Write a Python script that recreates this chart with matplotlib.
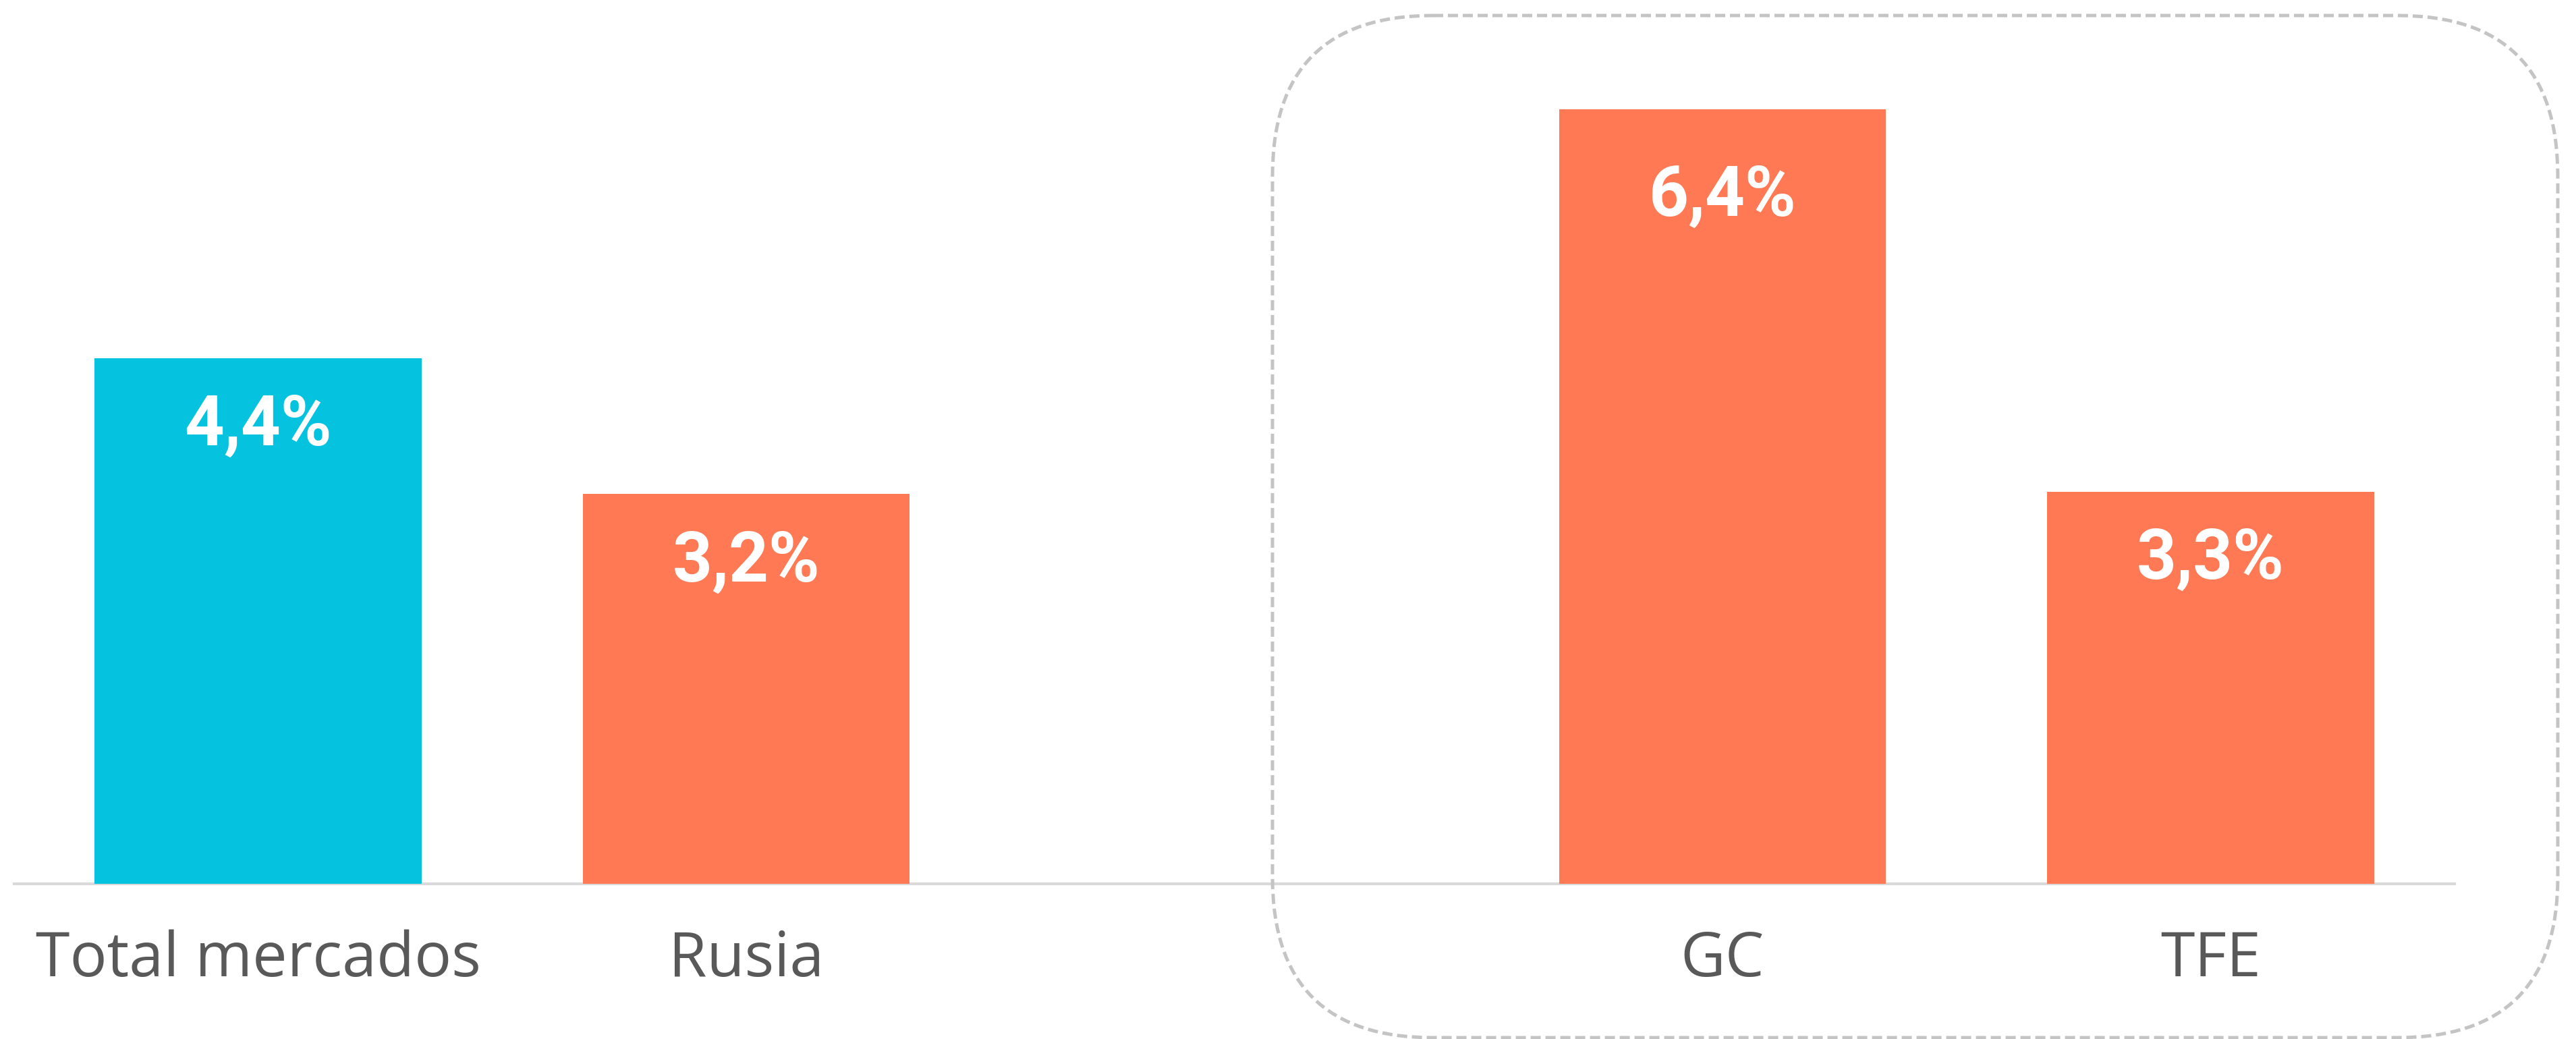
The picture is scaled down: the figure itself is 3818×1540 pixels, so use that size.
import matplotlib
matplotlib.use("Agg")
import matplotlib.pyplot as plt
from matplotlib.patches import FancyBboxPatch

# ---- data ----
categories = ["Total mercados", "Rusia", "", "GC", "TFE"]
values = [4.37, 3.24, None, 6.44, 3.26]
value_labels = ["4,4%", "3,2%", "", "6,4%", "3,3%"]
bar_colors = ["#05C3DE", "#FF7A54", "#FFFFFF", "#FF7A54", "#FF7A54"]

# label offsets below bar top (points) -- style only
label_offsets_pt = [-93, -93, 0, -114, -93]

W, H, DPI = 3818, 1540, 100
fig = plt.figure(figsize=(W / DPI, H / DPI), dpi=DPI)
fig.patch.set_facecolor("white")

axis_y_px = 1310
px_per_unit = 178.3
ymax = 7.0
ax_left_px, ax_right_px = 21, 3638
ax = fig.add_axes([ax_left_px / W, (H - axis_y_px) / H,
                   (ax_right_px - ax_left_px) / W, ymax * px_per_unit / H])

xs = [i for i, v in enumerate(values) if v is not None]
vs = [values[i] for i in xs]
cs = [bar_colors[i] for i in xs]
bars = ax.bar(xs, vs, width=0.67, color=cs, zorder=3)

ax.set_xlim(-0.5, len(categories) - 0.5)
ax.set_ylim(0, ymax)
for s in ["top", "right", "left"]:
    ax.spines[s].set_visible(False)
ax.spines["bottom"].set_color("#D9D9D9")
ax.spines["bottom"].set_linewidth(3)
ax.spines["bottom"].set_zorder(2)
ax.set_yticks([])
ax.set_xticks([])

for i, v in zip(xs, vs):
    ax.annotate(value_labels[i], xy=(i, v), xytext=(0, label_offsets_pt[i]),
                textcoords="offset points", ha="center", va="baseline",
                color="white", fontsize=74, fontweight="bold",
                family=["Roboto", "DejaVu Sans"], zorder=5)

label_base = -(1447 - axis_y_px) / (ymax * px_per_unit)
for i, c in enumerate(categories):
    if c:
        ax.text(i, label_base, c, transform=ax.get_xaxis_transform(),
                ha="center", va="baseline", color="#595959", fontsize=66,
                family=["Open Sans", "DejaVu Sans"])

# dashed rounded frame around GC / TFE
ov = fig.add_axes([0, 0, 1, 1], facecolor="none")
ov.set_xlim(0, W)
ov.set_ylim(H, 0)
ov.axis("off")
x0, y0, x1, y1 = 1886, 23, 3791, 1538
frame = FancyBboxPatch((x0, y0), x1 - x0, y1 - y0,
                       boxstyle="round,pad=0,rounding_size=238",
                       fill=False, edgecolor="#C4C4C4", linewidth=3.6,
                       linestyle=(0, (3, 1.4)), clip_on=False)
ov.add_patch(frame)

fig.savefig("out.png", dpi=DPI, facecolor="white")
